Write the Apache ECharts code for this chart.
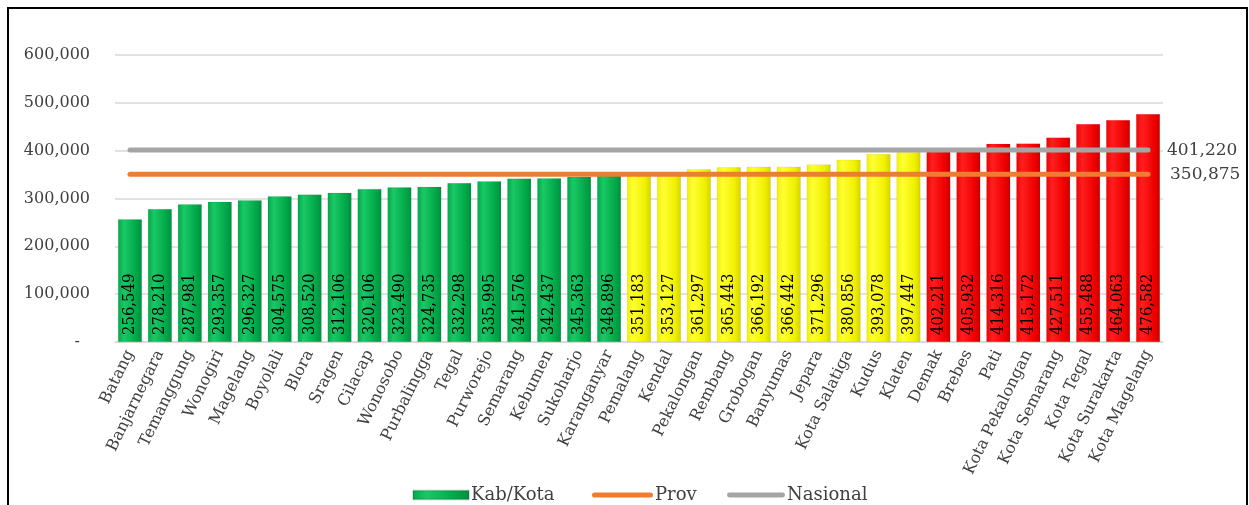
<!DOCTYPE html>
<html>
<head>
<meta charset="utf-8">
<script src="https://cdn.jsdelivr.net/npm/echarts@6/dist/echarts.min.js"></script>
<style>
html,body{margin:0;padding:0;background:#fff;}
#chart{position:absolute;left:0;top:0;width:1249px;height:505px;}
#frame{position:absolute;left:7px;top:7px;width:1241px;height:520px;box-sizing:border-box;border:2px solid #000;pointer-events:none;}
</style>
</head>
<body>
<div id="chart"></div>
<div id="frame"></div>
<script>
const categories = ['Batang','Banjarnegara','Temanggung','Wonogiri','Magelang','Boyolali','Blora','Sragen','Cilacap','Wonosobo','Purbalingga','Tegal','Purworejo','Semarang','Kebumen','Sukoharjo','Karanganyar','Pemalang','Kendal','Pekalongan','Rembang','Grobogan','Banyumas','Jepara','Kota Salatiga','Kudus','Klaten','Demak','Brebes','Pati','Kota Pekalongan','Kota Semarang','Kota Tegal','Kota Surakarta','Kota Magelang'];
const kabKota = [256549,278210,287981,293357,296327,304575,308520,312106,320106,323490,324735,332298,335995,341576,342437,345363,348896,351183,353127,361297,365443,366192,366442,371296,380856,393078,397447,402211,405932,414316,415172,427511,455488,464063,476582];
const PROV = 350875;
const NASIONAL = 401220;
const yTicks = [0,100000,200000,300000,400000,500000,600000];

const fmt = v => v.toLocaleString('en-US');
const grad = (dark, light, edge) => new echarts.graphic.LinearGradient(0,0,1,0,[
  {offset:0,color:dark},{offset:0.25,color:light},{offset:0.75,color:dark},{offset:1,color:edge}
]);
const greenG = () => grad('#00A848','#1BC866','#009040');
const yellowG = () => grad('#F0F000','#FFFF33','#D4D400');
const redG = () => grad('#F00000','#FF1F1F','#C80000');
const serif = 'DejaVu Serif';
const lineIcon = 'path://M2.5,0 L57.5,0 A2.5,2.5 0 0 1 57.5,5 L2.5,5 A2.5,2.5 0 0 1 2.5,0 Z';
const legendText = {fontFamily:serif,fontSize:18,color:'#404040',padding:[0,0,0,-3]};

const chart = echarts.init(document.getElementById('chart'), null, {renderer:'canvas'});
chart.setOption({
  animation:false,
  backgroundColor:'#fff',
  grid:{left:115,right:86,top:55,bottom:163,containLabel:false},
  xAxis:{
    type:'category',
    data:categories,
    boundaryGap:true,
    axisLine:{show:true,lineStyle:{color:'#D9D9D9',width:1.5}},
    axisTick:{show:false},
    axisLabel:{interval:0,rotate:64,margin:9,fontFamily:serif,fontSize:16,color:'#404040'}
  },
  yAxis:{
    type:'value',
    min:yTicks[0],max:yTicks[yTicks.length-1],interval:100000,
    axisLine:{show:false},axisTick:{show:false},
    splitLine:{lineStyle:{color:'#D9D9D9',width:1.5}},
    axisLabel:{margin:25,fontFamily:serif,fontSize:16,color:'#404040',
      formatter:v => v===0 ? '-  ' : fmt(v)}
  },
  legend:[
    {left:407,top:481,itemWidth:56,itemHeight:9,textStyle:legendText,
      data:[{name:'Kab/Kota',icon:'rect',itemStyle:{color:greenG()}}]},
    {left:587,top:481,itemWidth:61,itemHeight:9,symbolKeepAspect:true,textStyle:legendText,
      data:[{name:'Prov',icon:lineIcon,itemStyle:{color:'#ED7D31'}}]},
    {left:722,top:481,itemWidth:58,itemHeight:9,symbolKeepAspect:true,textStyle:legendText,
      data:[{name:'Nasional',icon:lineIcon,itemStyle:{color:'#A5A5A5'}}]}
  ],
  series:[
    {
      name:'Kab/Kota',type:'bar',data:kabKota,barWidth:'80%',
      itemStyle:{
        color:p => p.value < PROV ? greenG() : (p.value < NASIONAL ? yellowG() : redG()),
        borderColor:'rgba(0,0,0,0.12)',borderWidth:0.5
      },
      label:{show:true,position:'insideBottom',rotate:90,align:'left',verticalAlign:'middle',distance:7,
        fontFamily:'DejaVu Serif Condensed',fontSize:16.5,color:'#000',formatter:p => fmt(p.value)}
    },
    {
      name:'Prov',type:'line',symbol:'none',
      data:[[categories[0],PROV],[categories[categories.length-1],PROV]],
      lineStyle:{color:'#ED7D31',width:5,cap:'round'},
      itemStyle:{color:'#ED7D31'},
      endLabel:{show:true,distance:22,fontFamily:serif,fontSize:17,color:'#404040',formatter:p => fmt(p.value[1])},
      z:3
    },
    {
      name:'Nasional',type:'line',symbol:'none',
      data:[[categories[0],NASIONAL],[categories[categories.length-1],NASIONAL]],
      lineStyle:{color:'#A5A5A5',width:5,cap:'round'},
      itemStyle:{color:'#A5A5A5'},
      endLabel:{show:true,distance:19,fontFamily:serif,fontSize:17,color:'#404040',formatter:p => fmt(p.value[1])},
      z:3
    }
  ]
});
</script>
</body>
</html>
